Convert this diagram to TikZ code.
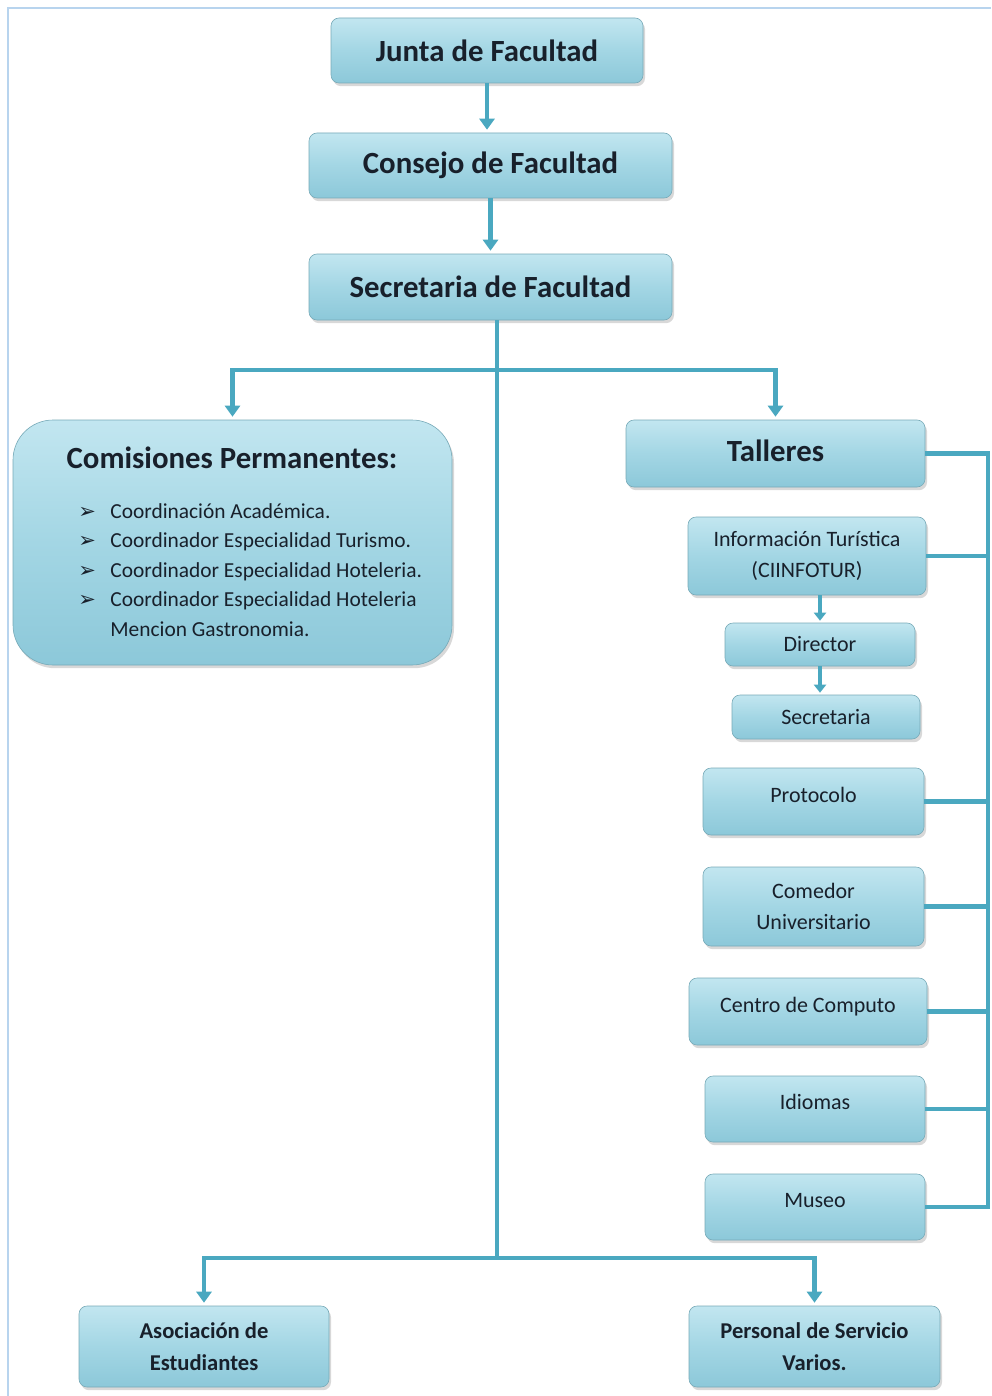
\documentclass[tikz,border=0pt]{standalone}
\usepackage{fontspec}
\setmainfont{Carlito}
\newfontfamily\dejavu{DejaVu Sans}
\usetikzlibrary{shadows,arrows.meta}
\definecolor{lineblue}{HTML}{4AA8C0}
\definecolor{frameblue}{HTML}{B8D4EE}
\definecolor{boxtop}{HTML}{C2E6F0}
\definecolor{boxmid}{HTML}{A3D6E4}
\definecolor{boxbot}{HTML}{8CC8D9}
\definecolor{txt}{HTML}{18202B}
\newcommand{\ttlfont}{\fontsize{15.4}{18}\selectfont\bfseries}
\newcommand{\smlfont}{\fontsize{11}{15.5}\selectfont}
\newcommand{\botfont}{\fontsize{11.3}{16}\selectfont\bfseries}
\newcommand{\lstfont}{\fontsize{10.7}{14.75}\selectfont}
\newcommand{\upby}[1]{\raisebox{7pt}{#1}}
\newcommand{\bul}{\makebox[16pt][l]{\dejavu\fontsize{10.5}{10}\selectfont ➢}}
\begin{document}
\begin{tikzpicture}[x=0.5pt,y=-0.5pt,
  box/.style={rounded corners=4pt, top color=boxtop, bottom color=boxbot, middle color=boxmid,
    draw=boxbot!85!black, line width=0.3pt,
    drop shadow={opacity=0.3,shadow xshift=1pt,shadow yshift=-1.6pt},
    align=center, inner sep=0pt, text=txt},
  conn/.style={lineblue, line width=2.1pt},
  arr/.style={conn, -{Triangle[width=7.5pt,length=5.5pt]}, shorten >=1.5pt},
  sarr/.style={lineblue, line width=1.6pt, -{Triangle[width=6pt,length=4pt]}, shorten >=1pt},
  lbl/.style={inner sep=0pt, text=txt}]
\useasboundingbox (0,0) rectangle (991,1396);
\fill[white] (0,0) rectangle (991,1396);
\draw[frameblue, line width=1.3pt] (8,1396) -- (8,8) -- (991,8);

% top chain
\node[box, minimum width=156pt, minimum height=32.5pt, font=\ttlfont] (junta) at (487,50.5) {Junta de Facultad};
\node[box, minimum width=181.5pt, minimum height=32.5pt, font=\ttlfont] (consejo) at (490.5,165.5) {Consejo de Facultad};
\node[box, minimum width=181.5pt, minimum height=33pt, font=\ttlfont] (secre) at (490.5,287) {Secretaria de Facultad};

% comisiones
\node[box, rounded corners=20pt, minimum width=219.5pt, minimum height=122.5pt] (com) at (232.5,542.5) {};
\node[lbl, font=\ttlfont] (comt) at (232,458) {Comisiones Permanentes:};
\node[lbl, anchor=base west, font=\lstfont, align=left] (coml) at (78,518) {%
  \begin{tabular}[t]{@{}l@{}l@{}}
  \bul & Coordinación Académica.\\
  \bul & Coordinador Especialidad Turismo.\\
  \bul & Coordinador Especialidad Hoteleria.\\
  \bul & Coordinador Especialidad Hoteleria\\
       & Mencion Gastronomia.
  \end{tabular}};

% talleres column
\node[box, minimum width=149.5pt, minimum height=33.5pt, font=\ttlfont] (tall) at (775.5,453.5) {\raisebox{3pt}{Talleres}};
\node[box, minimum width=119pt, minimum height=39pt, font=\smlfont] (info) at (807,556) {Información Turística\\(CIINFOTUR)};
\node[box, minimum width=95pt, minimum height=21.5pt, font=\smlfont] (dir) at (820,644.5) {Director};
\node[box, minimum width=94pt, minimum height=22pt, font=\smlfont] (sec2) at (826,717) {Secretaria};
\node[box, minimum width=110.5pt, minimum height=33.5pt, font=\smlfont] (proto) at (813.5,801.5) {\upby{Protocolo}};
\node[box, minimum width=110.5pt, minimum height=39.5pt, font=\smlfont] (come) at (813.5,906.5) {Comedor\\Universitario};
\node[box, minimum width=119pt, minimum height=33.5pt, font=\smlfont] (cent) at (808,1011.5) {\upby{Centro de Computo}};
\node[box, minimum width=110pt, minimum height=33pt, font=\smlfont] (idio) at (815,1109) {\upby{Idiomas}};
\node[box, minimum width=110pt, minimum height=33pt, font=\smlfont] (muse) at (815,1207) {\upby{Museo}};

% bottom
\node[box, minimum width=125pt, minimum height=40.5pt, font=\botfont] (asoc) at (204,1346.5) {Asociación de\\Estudiantes};
\node[box, minimum width=125.5pt, minimum height=40.5pt, font=\botfont] (pers) at (814.5,1346.5) {Personal de Servicio\\Varios.};

% connectors
\coordinate (j1) at (497,370);
\coordinate (j2) at (497,1258);
\coordinate (bus) at (988,449);
\draw[arr] (junta.south) -- (junta.south |- consejo.north);
\draw[arr] (consejo.south) -- (secre.north);
\draw[conn] (secre.south -| j1) -- (j2);
\draw[arr] (j1) -| (com.north);
\draw[arr] (j1) -| (tall.north);
\draw[arr] (j2) -| (asoc.north);
\draw[arr] (j2) -| (pers.north);
\draw[sarr] (info.south -| dir.north) -- (dir.north);
\draw[sarr] (dir.south) -- (dir.south |- sec2.north);
\draw[conn] (tall.east) -- (tall.east -| bus) -- (muse.east -| bus) -- (muse.east);
\draw[conn] (info.east) -- (info.east -| bus);
\draw[conn] (proto.east) -- (proto.east -| bus);
\draw[conn] (come.east) -- (come.east -| bus);
\draw[conn] (cent.east) -- (cent.east -| bus);
\draw[conn] (idio.east) -- (idio.east -| bus);
\end{tikzpicture}
\end{document}
